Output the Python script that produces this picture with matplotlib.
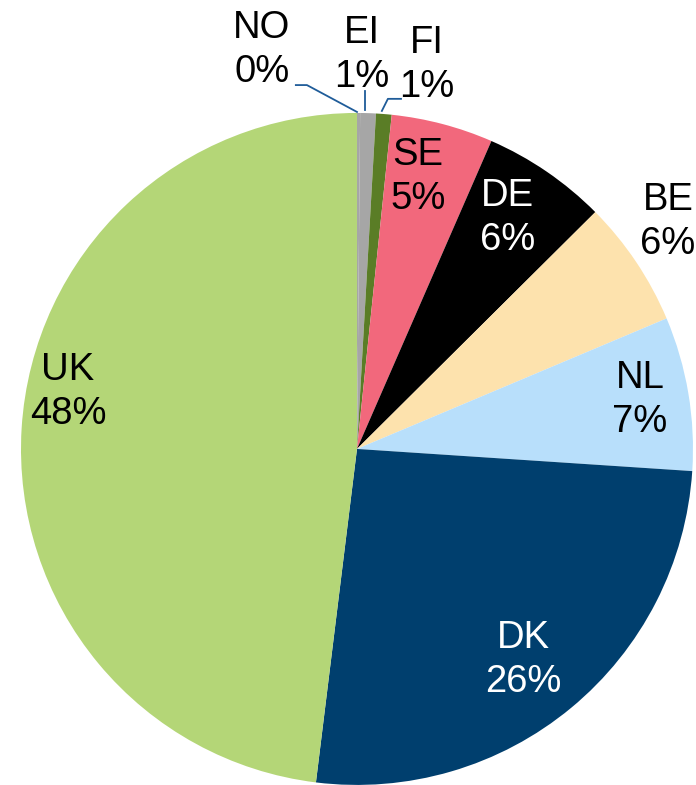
import numpy as np
import matplotlib.pyplot as plt

plt.rcParams['font.family'] = ['Liberation Sans', 'DejaVu Sans']

# Data
countries = ['NO', 'EI', 'FI', 'SE', 'DE', 'BE', 'NL', 'DK', 'UK']
shares = [0.15, 0.75, 0.75, 4.9, 6.0, 6.1, 7.4, 25.9, 48.05]
colors = ['#A6A6A6', '#A6A6A6', '#5A7D26', '#F2687C', '#000000',
          '#FDE2AD', '#B8DFFB', '#003F6E', '#B4D677']
text_colors = ['black', 'black', 'black', 'black', 'white',
               'black', 'black', 'white', 'black']

# label positions (pie radius = 1)
label_pos = {'NO': (-0.283, 1.187), 'EI': (0.015, 1.173), 'FI': (0.208, 1.143),
             'SE': (0.182, 0.810), 'DE': (0.449, 0.688), 'BE': (0.926, 0.676),
             'NL': (0.842, 0.146), 'DK': (0.494, -0.628), 'UK': (-0.860, 0.170)}

fig = plt.figure(figsize=(6.96, 7.85), dpi=100)
ax = fig.add_axes([0, 0, 1, 1])
ax.pie(shares, colors=colors, startangle=90, counterclock=False,
       radius=1, wedgeprops=dict(linewidth=0))

for name, v, tc in zip(countries, shares, text_colors):
    x, y = label_pos[name]
    ax.text(x, y, f"{name}\n{round(v)}%", ha='center', va='center',
            fontsize=27.5, color=tc, linespacing=1.3)

# leader lines for the small slices
lc = '#1F5C99'
ax.plot([0.0, -0.149, -0.182], [1.003, 1.083, 1.083], color=lc, lw=1.3)
ax.plot([0.024, 0.024], [1.009, 1.065], color=lc, lw=1.3)
ax.plot([0.074, 0.092, 0.131], [1.006, 1.042, 1.042], color=lc, lw=1.3)

ax.set_xlim(-1.0625, 1.009)
ax.set_ylim(-1.0, 1.336)
ax.set_aspect('equal')
ax.axis('off')

fig.savefig('out.png', dpi=100)
